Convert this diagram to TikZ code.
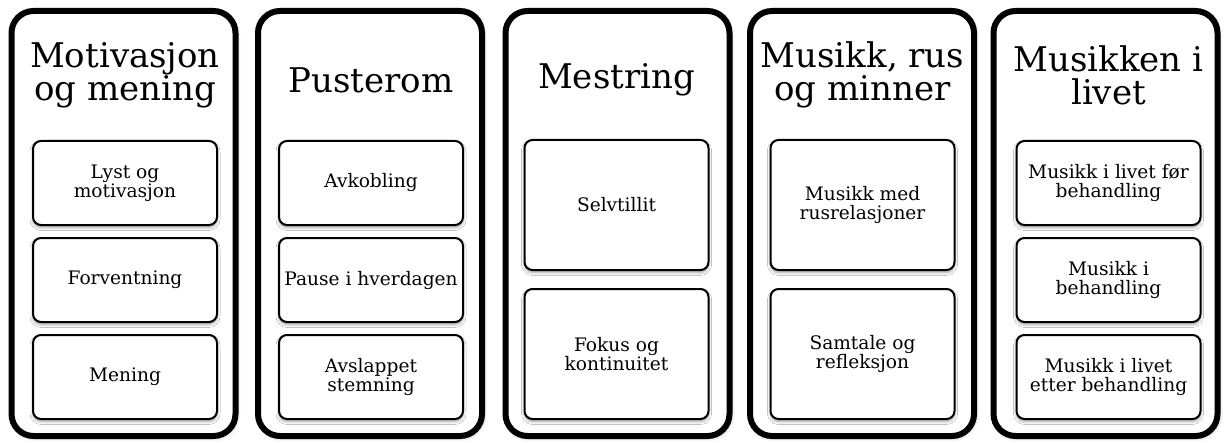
\documentclass[tikz,border=0pt]{standalone}
\usepackage{fontspec}
\setmainfont{DejaVu Serif}
\usetikzlibrary{positioning,shadows.blur}

\tikzset{
  kolonne/.style={draw, line width=3pt, rounded corners=11pt, fill=white,
    minimum width=112pt, minimum height=212.5pt,
    blur shadow={shadow xshift=0.6pt, shadow yshift=-0.8pt, shadow blur radius=2pt, shadow opacity=35}},
  tittel/.style={align=center, inner sep=0pt, font=\fontsize{17}{16.5}\selectfont},
  boks/.style={draw, line width=1pt, rounded corners=4pt, fill=white, inner sep=2pt,
    minimum width=92pt, align=center, font=\fontsize{9.3}{9.5}\selectfont,
    blur shadow={shadow xshift=0pt, shadow yshift=-1.2pt, shadow blur radius=1.5pt, shadow opacity=40}},
  lav/.style={boks, minimum height=42pt},
  hoy/.style={boks, minimum height=65pt}
}

\begin{document}
\begin{tikzpicture}[x=0.5pt,y=-0.5pt]
\useasboundingbox (0,0) rectangle (1224,443);
\node[kolonne] (K1) at (123.5,223.5) {};
\node[kolonne] (K2) at (370,223.5) {};
\node[kolonne] (K3) at (617.5,223.5) {};
\node[kolonne] (K4) at (862,223.5) {};
\node[kolonne] (K5) at (1105.5,223.5) {};
\node[tittel] (T1) at (125,75) {Motivasjon\\og mening};
\node[tittel] (T2) at (371,80) {Pusterom};
\node[tittel] (T3) at (616.5,80) {Mestring};
\node[tittel] (T4) at (862.5,75) {Musikk, rus\\og minner};
\node[tittel] (T5) at (1108.5,75) {Musikken i\\livet};
\node[lav] (A1) at (125,183) {Lyst og\\motivasjon};
\node[lav] (A2) at (125,280) {Forventning};
\node[lav] (A3) at (125,377) {Mening};
\node[lav] (B1) at (371,183) {Avkobling};
\node[lav] (B2) at (371,280) {Pause i hverdagen};
\node[lav] (B3) at (371,377) {Avslappet\\stemning};
\node[hoy] (C1) at (616.5,205) {Selvtillit};
\node[hoy] (C2) at (616.5,354) {Fokus og\\kontinuitet};
\node[hoy] (D1) at (862.5,205) {Musikk med\\rusrelasjoner};
\node[hoy] (D2) at (862.5,354) {Samtale og\\refleksjon};
\node[lav] (E1) at (1108.5,183) {Musikk i livet før\\behandling};
\node[lav] (E2) at (1108.5,280) {Musikk i\\behandling};
\node[lav] (E3) at (1108.5,377) {Musikk i livet\\etter behandling};
\end{tikzpicture}
\end{document}
